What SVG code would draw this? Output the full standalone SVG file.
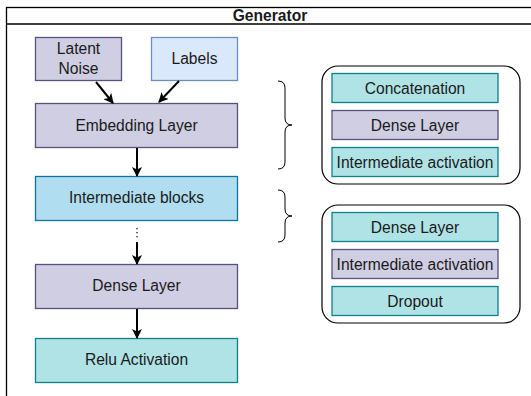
<svg xmlns="http://www.w3.org/2000/svg" width="531" height="396" viewBox="0 0 531 396">
<defs>
<style>
text{font-family:"Liberation Sans",Arial,sans-serif;font-size:15.6px;fill:#1a1a1a;text-anchor:middle}
.pur{fill:#d0cee2;stroke:#56517e;stroke-width:1.3}
.blu{fill:#dae8fc;stroke:#6c8ebf;stroke-width:1.3}
.ib{fill:#b1ddf0;stroke:#10739e;stroke-width:1.3}
.tea{fill:#b0e3e6;stroke:#0e8088;stroke-width:1.3}
.edge{stroke:#000;stroke-width:2;fill:none}
.br{stroke:#000;stroke-width:1;fill:none}
</style>
<marker id="ah" viewBox="0 0 10 10" refX="9" refY="5" markerWidth="5" markerHeight="5" orient="auto" markerUnits="strokeWidth">
<path d="M0,0 L10,5 L0,10 L2.5,5 Z" fill="#000"/>
</marker>
</defs>
<rect width="531" height="396" fill="#fff"/>
<g id="frame">
<rect x="6.5" y="7.5" width="540" height="400" fill="none" stroke="#000" stroke-width="1.3"/>
<line x1="6.5" y1="24" x2="540" y2="24" stroke="#000" stroke-width="1.3"/>
<text x="270" y="21" style="font-weight:bold">Generator</text>
</g>
<g id="latent"><rect class="pur" x="35.5" y="37.5" width="86" height="43"/><text x="78.5" y="53.5">Latent</text><text x="78.5" y="73.5">Noise</text></g>
<g id="labels"><rect class="blu" x="151.5" y="37.5" width="86" height="43"/><text x="194.5" y="64">Labels</text></g>
<g id="embedding"><rect class="pur" x="35.5" y="103.5" width="202" height="44"/><text x="136.5" y="131">Embedding Layer</text></g>
<g id="intermediate"><rect class="ib" x="35.5" y="176.5" width="202" height="44"/><text x="136.5" y="203">Intermediate blocks</text></g>
<g id="dense"><rect class="pur" x="35.5" y="264.5" width="202" height="44"/><text x="136.5" y="291">Dense Layer</text></g>
<g id="relu"><rect class="tea" x="35.5" y="338.5" width="202" height="44"/><text x="136.5" y="365">Relu Activation</text></g>
<g id="group1">
<rect x="322" y="66" width="198" height="118" rx="16" fill="none" stroke="#000" stroke-width="1.2"/>
<g id="g1-concat"><rect class="tea" x="332" y="73.5" width="166" height="29"/><text x="415" y="93.5">Concatenation</text></g>
<g id="g1-dense"><rect class="pur" x="332" y="110.5" width="166" height="29"/><text x="415" y="130.5">Dense Layer</text></g>
<g id="g1-act"><rect class="tea" x="332" y="147.5" width="166" height="29"/><text x="415" y="167.5">Intermediate activation</text></g>
</g>
<g id="group2">
<rect x="322" y="205" width="198" height="118" rx="16" fill="none" stroke="#000" stroke-width="1.2"/>
<g id="g2-dense"><rect class="tea" x="332" y="212.5" width="166" height="29"/><text x="415" y="232.5">Dense Layer</text></g>
<g id="g2-act"><rect class="pur" x="332" y="249.5" width="166" height="29"/><text x="415" y="269.5">Intermediate activation</text></g>
<g id="g2-drop"><rect class="tea" x="332" y="286.5" width="166" height="29"/><text x="415" y="306.5">Dropout</text></g>
</g>
<g id="braces">
<path class="br" d="M278,81 Q285,81 285,88 L285,118 Q285,125 292,125 Q285,125 285,132 L285,162 Q285,169 278,169"/>
<path class="br" d="M278,190 Q285,190 285,197 L285,209 Q285,216 292,216 Q285,216 285,223 L285,235 Q285,242 278,242"/>
</g>
<g id="connectors">
<line class="edge" x1="96" y1="82" x2="113" y2="103" marker-end="url(#ah)"/>
<line class="edge" x1="179" y1="81" x2="159" y2="102" marker-end="url(#ah)"/>
<line class="edge" x1="137" y1="148" x2="137" y2="176" marker-end="url(#ah)"/>
<line x1="137" y1="228" x2="137" y2="238" stroke="#000" stroke-width="1.2" stroke-dasharray="1.2 2.8"/>
<line class="edge" x1="137" y1="242" x2="137" y2="264" marker-end="url(#ah)"/>
<line class="edge" x1="137" y1="309" x2="137" y2="338" marker-end="url(#ah)"/>
</g>
</svg>
